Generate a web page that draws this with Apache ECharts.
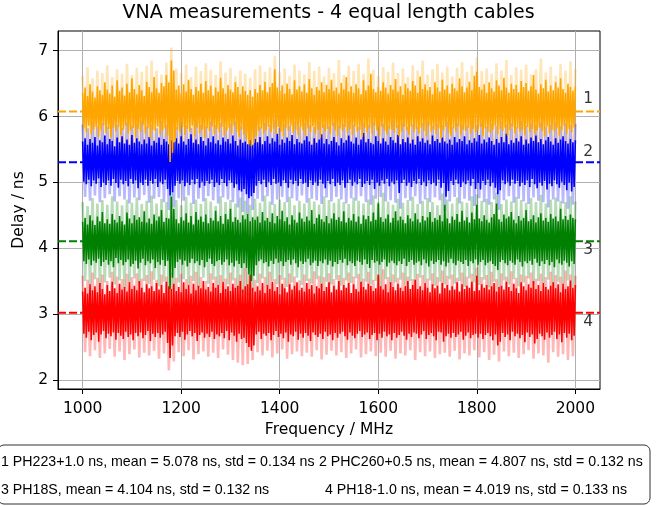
<!DOCTYPE html>
<html><head><meta charset="utf-8">
<script src="https://cdn.jsdelivr.net/npm/echarts@6/dist/echarts.min.js"></script>
<style>html,body{margin:0;padding:0;background:#fff}#c{width:667px;height:506px}</style>
</head><body><div id="c"></div>
<script>
// Sweep 1000 .. 2000 MHz. Dark traces: a reading every 2.5 MHz; light traces: every 5 MHz.
// Readings alternate between a local maximum and a local minimum of the noisy trace.
const freqStart = 1000, darkStep = 2.5, lightStep = 5;

const orangeDark = [
6.36,5.82,6.44,5.76,6.31,5.86,6.49,5.73,6.38,5.80,
6.29,5.84,6.46,5.70,6.40,5.79,6.33,5.87,6.52,5.75,
6.41,5.81,6.35,5.68,6.47,5.83,6.30,5.77,6.55,5.85,
6.39,5.72,6.44,5.80,6.32,5.86,6.50,5.74,6.37,5.79,
6.58,5.83,6.42,5.69,6.34,5.81,6.48,5.76,6.40,5.87,
6.31,5.74,6.53,5.82,6.45,5.66,6.37,5.80,6.60,5.78,
6.43,5.85,6.36,5.73,6.51,5.79,6.46,5.82,6.63,5.71,
6.52,5.31,6.85,5.45,6.70,5.62,6.41,5.80,6.47,5.76,
6.35,5.84,6.49,5.72,6.38,5.81,6.56,5.77,6.42,5.86,
6.33,5.70,6.45,5.83,6.39,5.75,6.50,5.80,6.36,5.68,
6.54,5.82,6.40,5.78,6.47,5.85,6.32,5.73,6.44,5.81,
6.38,5.76,6.59,5.84,6.43,5.71,6.35,5.79,6.48,5.83,
6.41,5.74,6.37,5.86,6.52,5.77,6.45,5.69,6.34,5.80,
6.46,5.72,6.39,5.66,6.33,5.58,6.40,5.55,6.30,5.60,
6.42,5.71,6.36,5.78,6.48,5.82,6.40,5.74,6.53,5.79,
6.37,5.85,6.45,5.76,6.51,5.81,6.72,5.73,6.44,5.84,
6.39,5.77,6.47,5.70,6.35,5.83,6.50,5.78,6.42,5.86,
6.34,5.75,6.55,5.80,6.41,5.72,6.46,5.84,6.38,5.79,
6.49,5.71,6.36,5.82,6.57,5.76,6.43,5.85,6.33,5.74,
6.45,5.80,6.40,5.68,6.52,5.83,6.37,5.77,6.48,5.81,
6.42,5.73,6.56,5.86,6.39,5.79,6.44,5.70,6.35,5.82,
6.51,5.78,6.41,5.84,6.60,5.75,6.38,5.81,6.46,5.72,
6.36,5.85,6.49,5.77,6.43,5.80,6.34,5.69,6.55,5.83,
6.40,5.76,6.47,5.82,6.65,5.74,6.42,5.86,6.37,5.79,
6.45,5.71,6.39,5.84,6.52,5.78,6.44,5.73,6.35,5.81,
6.48,5.80,6.41,5.75,6.57,5.83,6.38,5.70,6.46,5.77,
6.33,5.84,6.50,5.79,6.43,5.72,6.39,5.85,6.54,5.76,
6.47,5.81,6.36,5.74,6.61,5.83,6.42,5.78,6.49,5.70,
6.40,5.86,6.45,5.77,6.34,5.80,6.52,5.73,6.44,5.82,
6.38,5.67,6.56,5.79,6.41,5.84,6.47,5.75,6.35,5.71,
6.50,5.82,6.43,5.77,6.39,5.85,6.58,5.72,6.46,5.80,
6.37,5.78,6.44,5.83,6.53,5.74,6.40,5.81,6.62,5.76,
6.68,5.79,6.45,5.84,6.41,5.70,6.49,5.82,6.36,5.77,
6.52,5.75,6.43,5.80,6.38,5.86,6.55,5.73,6.47,5.81,
6.40,5.78,6.59,5.83,6.44,5.71,6.36,5.79,6.50,5.85,
6.42,5.74,6.48,5.82,6.37,5.77,6.54,5.80,6.45,5.72,
6.51,5.84,6.39,5.76,6.46,5.81,6.63,5.73,6.41,5.79,
6.35,5.83,6.49,5.78,6.43,5.70,6.56,5.85,6.38,5.75,
6.47,5.80,6.40,5.77,6.52,5.82,6.44,5.71,6.58,5.79,
6.42,5.86,6.36,5.74,6.50,5.81,6.45,5.76,6.39,5.83,
6.46];
const blueDark = [
5.62,5.01,5.67,4.97,5.57,5.04,5.66,4.94,5.60,5.03,
5.69,4.98,5.56,5.06,5.64,4.93,5.61,5.00,5.71,4.96,
5.58,5.03,5.66,4.95,5.63,5.05,5.55,4.99,5.68,4.92,
5.61,5.04,5.70,4.97,5.59,5.02,5.65,4.94,5.57,5.05,
5.72,4.98,5.60,5.03,5.67,4.91,5.62,5.00,5.58,4.96,
5.65,5.04,5.59,4.95,5.69,5.02,5.56,4.98,5.63,5.05,
5.60,4.93,5.68,5.01,5.57,4.97,5.66,5.04,5.62,4.90,
5.58,4.80,5.64,4.85,5.61,4.95,5.67,5.02,5.59,4.98,
5.70,5.03,5.62,4.94,5.57,5.00,5.66,4.96,5.73,5.04,
5.60,4.97,5.65,5.05,5.58,4.92,5.69,5.01,5.63,4.95,
5.56,5.02,5.67,4.98,5.61,5.04,5.70,4.93,5.59,5.00,
5.64,4.96,5.57,5.05,5.68,4.99,5.62,4.94,5.66,5.03,
5.59,5.00,5.71,4.92,5.63,4.97,5.56,4.88,5.65,4.86,
5.60,4.90,5.62,4.82,5.58,4.76,5.64,4.79,5.57,4.84,
5.66,4.95,5.61,5.02,5.69,4.97,5.58,5.04,5.63,4.93,
5.70,5.01,5.59,4.96,5.67,5.05,5.62,4.98,5.74,5.00,
5.57,4.94,5.65,5.03,5.60,4.99,5.68,4.92,5.63,5.04,
5.72,4.97,5.58,5.02,5.66,4.95,5.61,5.05,5.59,4.98,
5.64,5.00,5.70,4.93,5.62,5.03,5.57,4.96,5.67,5.01,
5.60,4.95,5.65,5.04,5.73,4.98,5.59,4.91,5.66,5.02,
5.58,4.97,5.63,5.05,5.69,4.94,5.61,5.00,5.56,4.96,
5.67,5.03,5.60,4.92,5.64,4.99,5.71,5.04,5.62,4.95,
5.59,5.01,5.68,4.97,5.57,5.05,5.65,4.93,5.75,4.98,
5.61,5.02,5.66,4.96,5.60,5.04,5.58,4.90,5.70,5.00,
5.63,4.95,5.59,5.03,5.67,4.98,5.62,5.05,5.57,4.94,
5.69,5.01,5.64,4.97,5.60,5.03,5.72,4.84,5.58,4.99,
5.66,5.04,5.61,4.95,5.68,5.00,5.59,4.93,5.65,5.02,
5.57,4.98,5.70,5.05,5.62,4.96,5.67,5.01,5.60,4.94,
5.64,5.03,5.58,4.97,5.71,5.00,5.63,4.95,5.66,5.04,
5.60,4.92,5.68,4.99,5.62,4.78,5.59,4.87,5.65,5.02,
5.57,4.96,5.69,5.04,5.61,4.98,5.66,4.93,5.63,5.01,
5.70,4.97,5.58,5.03,5.64,4.95,5.60,5.05,5.67,4.90,
5.62,4.99,5.72,4.89,5.59,5.02,5.65,4.96,5.61,5.04,
5.68,4.94,5.63,5.00,5.57,4.92,5.66,4.82,5.60,4.88,
5.69,5.03,5.61,4.97,5.74,5.01,5.58,4.95,5.64,5.04,
5.60,4.98,5.67,5.02,5.62,4.94,5.70,5.00,5.57,4.96,
5.65,5.03,5.59,4.93,5.68,5.05,5.63,4.97,5.71,4.91,
5.61,5.00,5.66,4.95,5.58,5.02,5.64,4.89,5.69,4.98,
5.62,4.94,5.57,5.03,5.67,4.97,5.60,4.92,5.65,5.01,
5.70,4.96,5.63,4.88,5.59,5.00,5.66,4.86,5.61,4.93,
5.64];
const greenDark = [
4.40,3.80,4.46,3.76,4.36,3.83,4.50,3.74,4.42,3.81,
4.35,3.78,4.48,3.84,4.41,3.73,4.55,3.79,4.38,3.82,
4.44,3.75,4.37,3.80,4.52,3.71,4.43,3.85,4.39,3.77,
4.49,3.82,4.41,3.74,4.36,3.79,4.54,3.83,4.45,3.72,
4.38,3.76,4.50,3.81,4.43,3.69,4.47,3.78,4.40,3.84,
4.56,3.74,4.39,3.80,4.45,3.77,4.37,3.83,4.51,3.70,
4.42,3.79,4.48,3.75,4.58,3.82,4.40,3.73,4.46,3.81,
4.45,3.38,4.78,3.55,4.60,3.70,4.44,3.79,4.38,3.83,
4.47,3.75,4.42,3.81,4.53,3.72,4.39,3.78,4.49,3.84,
4.36,3.77,4.55,3.80,4.43,3.74,4.48,3.82,4.40,3.71,
4.51,3.79,4.38,3.84,4.46,3.76,4.42,3.73,4.57,3.80,
4.41,3.82,4.49,3.75,4.37,3.79,4.52,3.83,4.44,3.74,
4.60,3.78,4.40,3.72,4.47,3.81,4.43,3.76,4.39,3.70,
4.50,3.77,4.44,3.70,4.52,3.60,4.41,3.50,4.47,3.58,
4.43,3.74,4.48,3.80,4.39,3.83,4.55,3.77,4.42,3.79,
4.46,3.72,4.40,3.81,4.53,3.76,4.38,3.84,4.49,3.78,
4.44,3.80,4.57,3.73,4.41,3.79,4.47,3.82,4.36,3.75,
4.50,3.83,4.43,3.77,4.39,3.71,4.54,3.80,4.45,3.76,
4.40,3.79,4.48,3.84,4.42,3.74,4.58,3.78,4.37,3.81,
4.46,3.73,4.51,3.80,4.44,3.77,4.40,3.83,4.49,3.75,
4.38,3.81,4.45,3.72,4.53,3.79,4.43,3.76,4.47,3.82,
4.41,3.78,4.56,3.84,4.39,3.74,4.46,3.80,4.42,3.77,
4.52,3.73,4.40,3.81,4.48,3.79,4.37,3.75,4.50,3.83,
4.44,3.76,4.49,3.70,4.41,3.82,4.54,3.78,4.43,3.80,
4.68,3.75,4.47,3.79,4.40,3.83,4.45,3.72,4.51,3.78,
4.39,3.81,4.46,3.77,4.56,3.74,4.42,3.80,4.48,3.76,
4.43,3.84,4.38,3.73,4.50,3.79,4.45,3.82,4.41,3.75,
4.53,3.78,4.44,3.80,4.39,3.74,4.49,3.83,4.42,3.77,
4.47,3.72,4.55,3.81,4.40,3.76,4.46,3.79,4.43,3.82,
4.50,3.75,4.41,3.80,4.66,3.72,4.45,3.78,4.38,3.84,
4.48,3.77,4.43,3.74,4.52,3.81,4.40,3.79,4.57,3.76,
4.42,3.82,4.47,3.73,4.39,3.80,4.54,3.77,4.44,3.83,
4.66,3.75,4.45,3.79,4.41,3.82,4.50,3.74,4.43,3.78,
4.39,3.80,4.47,3.76,4.52,3.73,4.68,3.67,4.44,3.79,
4.40,3.82,4.51,3.77,4.45,3.74,4.48,3.81,4.55,3.78,
4.43,3.75,4.38,3.83,4.49,3.79,4.42,3.72,4.46,3.80,
4.58,3.77,4.41,3.81,4.44,3.75,4.50,3.84,4.39,3.78,
4.47,3.73,4.53,3.80,4.42,3.76,4.46,3.82,4.40,3.74,
4.52,3.79,4.45,3.71,4.48,3.83,4.41,3.77,4.60,3.75,
4.44,3.81,4.49,3.78,4.43,3.72,4.51,3.80,4.46,3.76,
4.44];
const redDark = [
3.34,2.70,3.40,2.64,3.31,2.73,3.45,2.60,3.36,2.68,
3.42,2.72,3.33,2.58,3.47,2.69,3.38,2.74,3.30,2.63,
3.44,2.70,3.35,2.66,3.49,2.72,3.39,2.61,3.32,2.71,
3.46,2.67,3.37,2.62,3.41,2.73,3.34,2.65,3.48,2.69,
3.38,2.60,3.43,2.71,3.36,2.66,3.50,2.72,3.40,2.63,
3.33,2.68,3.45,2.74,3.39,2.59,3.42,2.70,3.35,2.65,
3.47,2.71,3.37,2.64,3.44,2.69,3.32,2.73,3.49,2.56,
3.42,2.33,3.38,2.52,3.46,2.66,3.35,2.71,3.41,2.65,
3.33,2.73,3.48,2.61,3.38,2.69,3.44,2.74,3.31,2.66,
3.46,2.71,3.36,2.59,3.43,2.68,3.39,2.72,3.50,2.64,
3.37,2.70,3.41,2.65,3.34,2.73,3.47,2.62,3.40,2.69,
3.44,2.66,3.32,2.71,3.49,2.63,3.38,2.74,3.42,2.60,
3.35,2.72,3.46,2.67,3.40,2.58,3.43,2.70,3.50,2.62,
3.37,2.64,3.42,2.56,3.45,2.50,3.60,2.44,3.40,2.52,
3.34,2.69,3.42,2.73,3.36,2.62,3.47,2.70,3.32,2.67,
3.44,2.71,3.38,2.60,3.49,2.68,3.35,2.74,3.41,2.65,
3.30,2.70,3.46,2.63,3.39,2.72,3.33,2.58,3.45,2.69,
3.37,2.66,3.43,2.73,3.48,2.61,3.36,2.70,3.40,2.64,
3.34,2.71,3.47,2.67,3.38,2.59,3.44,2.72,3.31,2.68,
3.42,2.65,3.39,2.70,3.46,2.62,3.35,2.73,3.41,2.66,
3.48,2.69,3.33,2.60,3.43,2.71,3.37,2.64,3.50,2.70,
3.36,2.73,3.44,2.66,3.40,2.61,3.47,2.72,3.32,2.67,
3.45,2.63,3.38,2.70,3.34,2.74,3.49,2.65,3.41,2.69,
3.37,2.72,3.46,2.62,3.43,2.68,3.35,2.71,3.39,2.60,
3.60,2.70,3.42,2.64,3.37,2.73,3.45,2.66,3.33,2.69,
3.48,2.60,3.41,2.71,3.36,2.64,3.46,2.68,3.40,2.73,
3.35,2.67,3.43,2.61,3.50,2.70,3.38,2.65,3.44,2.72,
3.52,2.70,3.38,2.63,3.42,2.69,3.36,2.74,3.47,2.62,
3.40,2.68,3.33,2.71,3.45,2.66,3.39,2.60,3.43,2.73,
3.31,2.72,3.47,2.58,3.39,2.66,3.44,2.70,3.36,2.64,
3.42,2.71,3.37,2.65,3.48,2.69,3.34,2.73,3.45,2.61,
3.38,2.67,3.43,2.72,3.40,2.63,3.49,2.68,3.35,2.70,
3.58,2.64,3.36,2.70,3.45,2.62,3.40,2.68,3.44,2.71,
3.37,2.66,3.42,2.60,3.47,2.69,3.34,2.52,3.41,2.58,
3.43,2.71,3.37,2.65,3.49,2.69,3.41,2.60,3.35,2.73,
3.46,2.66,3.39,2.70,3.32,2.63,3.48,2.68,3.42,2.57,
3.36,2.72,3.45,2.65,3.40,2.69,3.50,2.55,3.38,2.62,
3.44,2.70,3.35,2.66,3.47,2.61,3.41,2.72,3.37,2.64,
3.43,2.68,3.48,2.73,3.39,2.62,3.45,2.69,3.33,2.57,
3.46,2.71,3.38,2.64,3.42,2.70,3.51,2.60,3.40,2.67,
3.44];

const orangeLight = [
6.62,5.55,6.75,5.48,6.58,5.60,6.70,5.45,6.66,5.52,
6.78,5.50,6.60,5.58,6.72,5.43,6.65,5.55,6.80,5.47,
6.63,5.52,6.74,5.57,6.68,5.42,6.77,5.50,6.85,5.46,
6.70,5.53,6.64,5.40,6.82,5.28,7.05,5.35,6.73,5.51,
6.66,5.49,6.79,5.56,6.60,5.44,6.76,5.52,6.69,5.47,
6.81,5.42,6.71,5.54,6.63,5.48,6.84,5.51,6.67,5.45,
6.74,5.50,6.61,5.43,6.70,5.38,6.65,5.32,6.59,5.30,
6.72,5.46,6.78,5.53,6.68,5.49,6.75,5.55,6.92,5.47,
6.67,5.52,6.73,5.44,6.62,5.56,6.79,5.48,6.70,5.51,
6.64,5.45,6.83,5.53,6.69,5.41,6.76,5.57,6.61,5.49,
6.74,5.46,6.66,5.54,6.86,5.50,6.63,5.43,6.77,5.48,
6.69,5.55,6.80,5.47,6.65,5.52,6.88,5.44,6.71,5.56,
6.62,5.40,6.75,5.51,6.68,5.46,6.82,5.53,6.66,5.45,
6.73,5.50,6.60,5.57,6.78,5.44,6.70,5.52,6.85,5.48,
6.64,5.54,6.72,5.42,6.80,5.50,6.67,5.46,6.76,5.38,
6.61,5.53,6.74,5.49,6.83,5.55,6.68,5.45,6.77,5.51,
6.90,5.47,6.69,5.56,6.73,5.41,6.65,5.50,6.81,5.48,
6.70,5.54,6.86,5.44,6.63,5.52,6.75,5.49,6.71,5.43,
6.79,5.53,6.64,5.47,6.72,5.56,6.88,5.45,6.67,5.50,
6.76,5.46,6.62,5.54,6.80,5.42,6.70,5.52,6.84,5.48,
6.72];
const blueLight = [
5.88,4.78,5.82,4.72,5.92,4.80,5.85,4.70,5.90,4.76,
5.84,4.82,5.95,4.71,5.87,4.79,5.83,4.74,5.91,4.68,
5.86,4.77,5.89,4.73,5.94,4.81,5.85,4.69,5.88,4.75,
5.82,4.78,5.93,4.70,5.87,4.58,5.90,4.62,5.84,4.76,
5.91,4.72,5.86,4.80,5.83,4.67,5.96,4.75,5.88,4.71,
5.85,4.79,5.92,4.73,5.87,4.68,5.90,4.77,5.84,4.74,
5.89,4.70,5.93,4.62,5.86,4.55,5.88,4.52,5.85,4.58,
5.91,4.75,5.84,4.71,5.90,4.79,5.87,4.66,5.95,4.74,
5.83,4.78,5.89,4.70,5.86,4.76,5.92,4.72,5.85,4.80,
5.90,4.69,5.87,4.75,5.84,4.73,5.94,4.67,5.88,4.77,
5.85,4.71,5.91,4.78,5.86,4.74,5.89,4.68,5.93,4.76,
5.87,4.72,5.84,4.79,5.90,4.70,5.88,4.66,5.92,4.75,
5.85,4.78,5.89,4.71,5.86,4.73,5.94,4.69,5.87,4.60,
5.91,4.76,5.84,4.72,5.88,4.79,5.85,4.67,5.90,4.74,
5.93,4.70,5.86,4.77,5.89,4.73,5.87,4.56,5.92,4.71,
5.84,4.78,5.90,4.68,5.88,4.75,5.86,4.72,5.95,4.64,
5.87,4.76,5.91,4.70,5.85,4.66,5.89,4.74,5.86,4.58,
5.92,4.73,5.88,4.79,5.90,4.69,5.84,4.75,5.93,4.71,
5.86,4.67,5.89,4.77,5.87,4.72,5.91,4.70,5.85,4.62,
5.88,4.74,5.92,4.71,5.86,4.68,5.90,4.60,5.87,4.66,
5.89];
const greenLight = [
4.70,3.50,4.64,3.44,4.76,3.53,4.68,3.41,4.73,3.48,
4.66,3.55,4.79,3.45,4.71,3.51,4.65,3.39,4.74,3.47,
4.69,3.54,4.77,3.43,4.67,3.50,4.72,3.46,4.80,3.52,
4.68,3.42,4.75,3.49,4.70,3.30,4.86,3.36,4.73,3.48,
4.65,3.53,4.78,3.44,4.69,3.50,4.74,3.40,4.67,3.55,
4.76,3.46,4.71,3.52,4.64,3.43,4.79,3.49,4.70,3.45,
4.73,3.51,4.68,3.38,4.77,3.32,4.72,3.28,4.66,3.35,
4.75,3.47,4.69,3.54,4.80,3.42,4.71,3.50,4.67,3.45,
4.74,3.52,4.70,3.41,4.78,3.48,4.65,3.55,4.72,3.44,
4.68,3.50,4.76,3.46,4.71,3.53,4.66,3.40,4.79,3.49,
4.73,3.45,4.69,3.52,4.75,3.43,4.70,3.51,4.67,3.47,
4.77,3.54,4.72,3.42,4.68,3.49,4.74,3.45,4.80,3.50,
4.70,3.41,4.84,3.53,4.71,3.46,4.66,3.48,4.75,3.52,
4.69,3.44,4.73,3.50,4.78,3.42,4.67,3.55,4.72,3.47,
4.76,3.51,4.70,3.43,4.65,3.49,4.83,3.45,4.74,3.53,
4.68,3.46,4.77,3.50,4.71,3.41,4.69,3.54,4.79,3.48,
4.82,3.44,4.72,3.52,4.75,3.40,4.70,3.49,4.84,3.38,
4.67,3.51,4.74,3.45,4.71,3.53,4.78,3.42,4.73,3.48,
4.69,3.54,4.76,3.44,4.70,3.50,4.81,3.46,4.68,3.52,
4.74,3.43,4.77,3.49,4.72,3.45,4.70,3.51,4.79,3.40,
4.71];
const redLight = [
3.58,2.42,3.52,2.36,3.63,2.45,3.55,2.33,3.60,2.40,
3.50,2.47,3.64,2.35,3.57,2.43,3.53,2.30,3.61,2.39,
3.56,2.46,3.62,2.34,3.54,2.41,3.59,2.37,3.65,2.44,
3.52,2.32,3.60,2.40,3.57,2.14,3.63,2.28,3.55,2.42,
3.61,2.36,3.53,2.45,3.58,2.31,3.64,2.39,3.56,2.43,
3.50,2.35,3.62,2.41,3.57,2.33,3.59,2.46,3.54,2.38,
3.63,2.30,3.55,2.26,3.60,2.22,3.70,2.24,3.58,2.30,
3.52,2.42,3.61,2.37,3.56,2.44,3.64,2.34,3.53,2.40,
3.59,2.46,3.55,2.32,3.62,2.39,3.57,2.43,3.51,2.36,
3.60,2.41,3.54,2.35,3.65,2.45,3.58,2.31,3.56,2.38,
3.62,2.44,3.53,2.37,3.59,2.42,3.55,2.33,3.63,2.40,
3.57,2.46,3.61,2.34,3.54,2.39,3.64,2.43,3.52,2.36,
3.58,2.41,3.68,2.35,3.56,2.44,3.60,2.32,3.55,2.40,
3.63,2.37,3.57,2.45,3.53,2.30,3.61,2.42,3.59,2.36,
3.54,2.43,3.62,2.33,3.56,2.39,3.66,2.41,3.58,2.35,
3.60,2.44,3.55,2.31,3.63,2.40,3.57,2.37,3.61,2.45,
3.70,2.34,3.56,2.42,3.59,2.30,3.64,2.38,3.53,2.28,
3.62,2.43,3.57,2.36,3.65,2.41,3.55,2.33,3.60,2.39,
3.58,2.45,3.63,2.32,3.54,2.40,3.61,2.37,3.56,2.26,
3.64,2.42,3.59,2.35,3.57,2.39,3.66,2.30,3.60,2.36,
3.58];

const rawMeans = [5.078, 4.807, 4.104, 4.019];   // ns
const plotOffsets = [1.0, 0.5, 0.0, -1.0];        // ns shift applied in the plot
const traceLabels = ['1', '2', '3', '4'];
const legendTexts = [
  '1 PH223+1.0 ns, mean = 5.078 ns, std = 0.134 ns',
  '2 PHC260+0.5 ns, mean = 4.807 ns, std = 0.132 ns',
  '3 PH18S, mean = 4.104 ns, std = 0.132 ns',
  '4 PH18-1.0 ns, mean = 4.019 ns, std = 0.133 ns'
];
const xTicks = [1000, 1200, 1400, 1600, 1800, 2000];
const yTicks = [2, 3, 4, 5, 6, 7];

const colors = ['#FFA500', '#0000FF', '#008000', '#FF0000'];
const darkSets = [orangeDark, blueDark, greenDark, redDark];
const lightSets = [orangeLight, blueLight, greenLight, redLight];

function toPairs(arr, step) { return arr.map((v, i) => [freqStart + step * i, v]); }
const FONT = 'DejaVu Sans';
const series = [];
const means = rawMeans.map((m, i) => +(m + plotOffsets[i]).toFixed(3));

means.forEach((m, i) => {
  series.push({
    type: 'line', silent: true, symbol: 'none', z: 1,
    data: [[950, m], [2050, m]],
    lineStyle: { color: colors[i], width: 2, type: [8, 3] }
  });
});
lightSets.forEach((arr, i) => {
  series.push({
    type: 'line', silent: true, symbol: 'none', z: 2,
    data: toPairs(arr, lightStep),
    lineStyle: { color: colors[i], width: 2.6, opacity: 0.28 }
  });
});
[3, 2, 1, 0].forEach(i => {
  series.push({
    type: 'line', silent: true, symbol: 'none', z: 3,
    data: toPairs(darkSets[i], darkStep),
    lineStyle: { color: colors[i], width: 1.6 }
  });
});
const labelOffsets = [[0, -12], [0, -10], [0, 9], [0, 9]];
series.push({
  type: 'scatter', silent: true, symbolSize: 0, z: 5,
  data: means.map((m, i) => ({
    value: [2026, m],
    label: { show: true, formatter: traceLabels[i], offset: labelOffsets[i] }
  })),
  label: { color: '#000', fontSize: 15.5, fontFamily: FONT, position: 'inside' }
});

const axisCommon = {
  axisLine: { show: true, lineStyle: { color: '#000', width: 1 } },
  axisTick: { show: true, length: 5, lineStyle: { color: '#000', width: 1 } },
  splitLine: { show: true, lineStyle: { color: '#b0b0b0', width: 1 } },
  nameTextStyle: { color: '#000', fontSize: 15.5, fontFamily: FONT }
};

const chart = echarts.init(document.getElementById('c'), null, { renderer: 'canvas' });
chart.setOption({
  animation: false,
  backgroundColor: '#fff',
  title: {
    text: 'VNA measurements - 4 equal length cables',
    left: 328.5, top: 3.5, textAlign: 'center', padding: 0,
    textStyle: { color: '#000', fontSize: 19, fontWeight: 'normal', fontFamily: FONT }
  },
  grid: { left: 58, top: 31, width: 542, height: 358, show: true, borderColor: '#000', borderWidth: 1, containLabel: false },
  xAxis: Object.assign({}, axisCommon, {
    type: 'value', min: 950, max: 2050,
    name: 'Frequency / MHz', nameLocation: 'middle', nameGap: 31,
    axisTick: Object.assign({}, axisCommon.axisTick, { customValues: xTicks }),
    axisLabel: { customValues: xTicks, formatter: v => String(v), color: '#000', fontSize: 15.5, fontFamily: FONT, margin: 12 }
  }),
  yAxis: Object.assign({}, axisCommon, {
    type: 'value', min: 1.86, max: 7.30,
    name: 'Delay / ns', nameLocation: 'middle', nameGap: 25,
    axisTick: Object.assign({}, axisCommon.axisTick, { customValues: yTicks }),
    axisLabel: { customValues: yTicks, formatter: v => String(v), color: '#000', fontSize: 15.5, fontFamily: FONT, margin: 10 }
  }),
  graphic: [
    { type: 'rect', silent: true, shape: { x: -2, y: 445, width: 652, height: 59, r: 6 },
      style: { fill: '#fff', stroke: '#333', lineWidth: 1 } },
    { type: 'text', silent: true, x: 1, y: 462, style: { text: legendTexts[0], fontSize: 14.2, fontFamily: 'Liberation Sans', fill: '#000', verticalAlign: 'middle' } },
    { type: 'text', silent: true, x: 319, y: 462, style: { text: legendTexts[1], fontSize: 14.2, fontFamily: 'Liberation Sans', fill: '#000', verticalAlign: 'middle' } },
    { type: 'text', silent: true, x: 1, y: 490, style: { text: legendTexts[2], fontSize: 14.2, fontFamily: 'Liberation Sans', fill: '#000', verticalAlign: 'middle' } },
    { type: 'text', silent: true, x: 325, y: 490, style: { text: legendTexts[3], fontSize: 14.2, fontFamily: 'Liberation Sans', fill: '#000', verticalAlign: 'middle' } }
  ],
  series: series
});
</script>
</body></html>
